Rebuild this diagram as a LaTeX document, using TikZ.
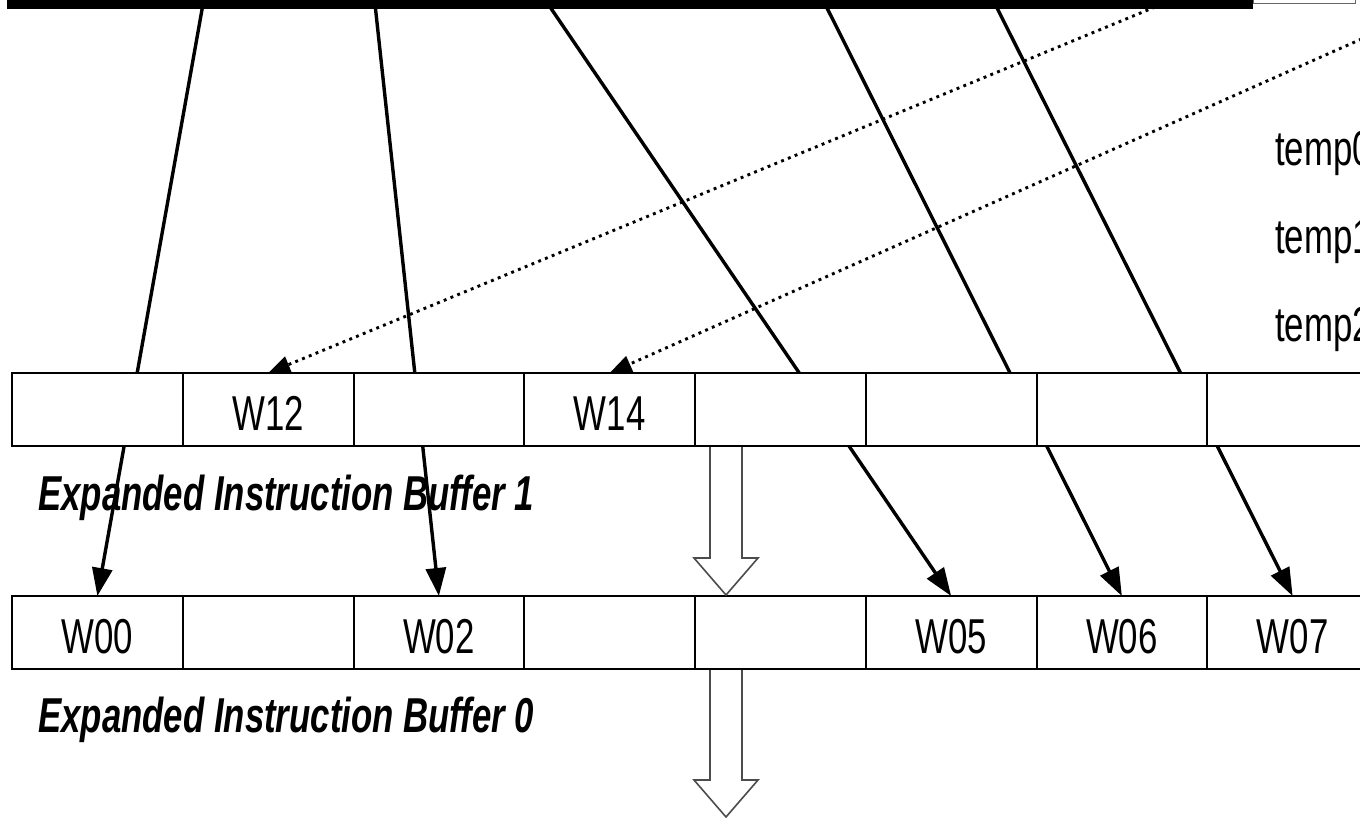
\documentclass[tikz,border=0pt]{standalone}
\usepackage{fontspec}
\setmainfont{Liberation Sans}
\usepackage{graphicx}
\usetikzlibrary{arrows.meta}
\pgfdeclarelayer{bg}
\pgfdeclarelayer{canvas}
\pgfsetlayers{canvas,bg,main}
\newcommand\narrowtxt[1]{\scalebox{0.71}[1]{#1}}
\tikzset{
  cellbox/.style={draw=black, line width=2pt, fill=white, minimum width=170.75pt,
    minimum height=73pt, inner sep=0pt, outer sep=0pt, text height=41pt, text depth=0pt,
    font=\fontsize{49}{50}\selectfont},
  wire/.style={line width=3.4pt, -{Triangle[length=28pt,width=20pt]}},
  dotwire/.style={line width=2.9pt, dash pattern=on 2.9pt off 4.4pt, -{Triangle[length=22pt,width=17pt]}},
  blockarrow/.style={draw=black!70, line width=1.6pt, fill=white, line join=miter},
  buflabel/.style={font=\fontsize{49}{50}\selectfont\bfseries\itshape, anchor=base west, inner sep=0pt},
  templabel/.style={font=\fontsize{49}{50}\selectfont, anchor=base west, inner sep=0pt},
}
\begin{document}
\begin{tikzpicture}[x=1pt,y=-1pt]
\useasboundingbox (0,0) rectangle (1360,819);
\clip (0,0) rectangle (1360,819);
\begin{pgfonlayer}{canvas}
  \fill[white] (0,0) rectangle (1360,819);
\end{pgfonlayer}

% Expanded Instruction Buffer 1
\node[cellbox] (a0) at (97.375,409.5) {};
\node[cellbox] (a1) at (268.125,409.5) {\narrowtxt{W12}};
\node[cellbox] (a2) at (438.875,409.5) {};
\node[cellbox] (a3) at (609.625,409.5) {\narrowtxt{W14}};
\node[cellbox] (a4) at (780.375,409.5) {};
\node[cellbox] (a5) at (951.125,409.5) {};
\node[cellbox] (a6) at (1121.875,409.5) {};
\node[cellbox] (a7) at (1292.625,409.5) {};

% Expanded Instruction Buffer 0
\node[cellbox] (b0) at (97.375,632.5) {\narrowtxt{W00}};
\node[cellbox] (b1) at (268.125,632.5) {};
\node[cellbox] (b2) at (438.875,632.5) {\narrowtxt{W02}};
\node[cellbox] (b3) at (609.625,632.5) {};
\node[cellbox] (b4) at (780.375,632.5) {};
\node[cellbox] (b5) at (951.125,632.5) {\narrowtxt{W05}};
\node[cellbox] (b6) at (1121.875,632.5) {\narrowtxt{W06}};
\node[cellbox] (b7) at (1292.625,632.5) {\narrowtxt{W07}};

% labels
\node[buflabel] (lab1) at (38,510) {\narrowtxt{Expanded Instruction Buffer 1}};
\node[buflabel] (lab0) at (38,732) {\narrowtxt{Expanded Instruction Buffer 0}};
\node[templabel] (t0) at (1275,165) {\narrowtxt{temp0}};
\node[templabel] (t1) at (1275,253) {\narrowtxt{temp1}};
\node[templabel] (t2) at (1275,341) {\narrowtxt{temp2}};

% source points at the top row
\coordinate (s1) at (203,4);
\coordinate (s2) at (375,4);
\coordinate (s3) at (548,4);
\coordinate (s4) at (825,4);
\coordinate (s5) at (995,4);
\coordinate (d1) at (1155,7);
\coordinate (d2) at (1375,33);

\begin{pgfonlayer}{bg}
  \draw[wire] (s1) -- (b0.north);
  \draw[wire] (s2) -- (b2.north);
  \draw[wire] (s3) -- (b5.north);
  \draw[wire] (s4) -- (b6.north);
  \draw[wire] (s5) -- (b7.north);
  \draw[dotwire] (d1) -- (a1.north);
  \draw[dotwire] (d2) -- (a3.north);
\end{pgfonlayer}

% top (cut-off) row
\fill[black] (7,-2) rectangle (1253,9);
\draw[black!60, line width=1pt] (1253,-1) rectangle (1355,3);

% hollow block arrows
\path[blockarrow] (710,447) -- (710,558) -- (694,558) -- (726,595) -- (758,558) -- (742,558) -- (742,447);
\path[blockarrow] (710,670) -- (710,780) -- (694,780) -- (726,817) -- (758,780) -- (742,780) -- (742,670);
\end{tikzpicture}
\end{document}
